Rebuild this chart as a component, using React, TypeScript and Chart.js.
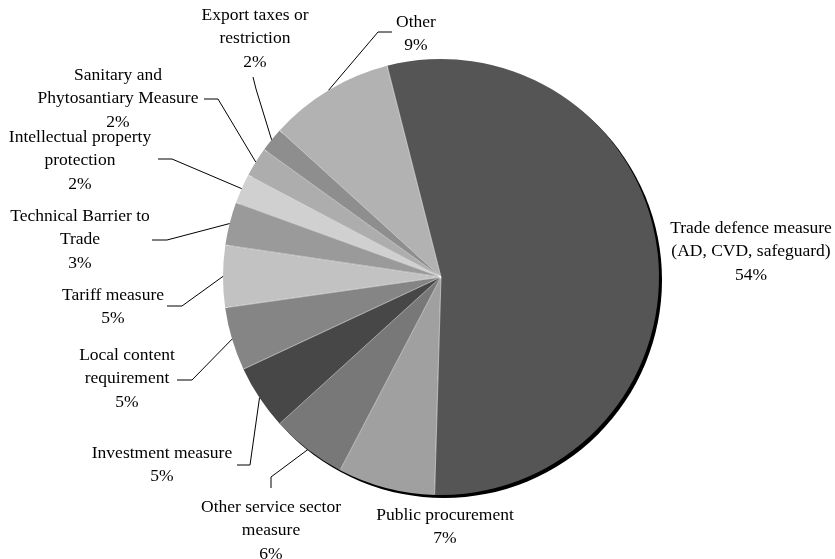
import { useEffect, useRef } from "react";
import { Chart, registerables } from "chart.js";

Chart.register(...registerables);

// ---- data ----
const categories: string[] = [
  "Trade defence measure\n(AD, CVD, safeguard)",
  "Public procurement",
  "Other service sector\nmeasure",
  "Investment measure",
  "Local content\nrequirement",
  "Tariff measure",
  "Technical Barrier to\nTrade",
  "Intellectual property\nprotection",
  "Sanitary and\nPhytosantiary Measure",
  "Export taxes or\nrestriction",
  "Other",
];

const shares: number[] = [54.49, 7.2, 5.6, 4.8, 4.7, 4.6, 3.2, 2.2, 2.2, 1.8, 9.3];

const sliceColors: string[] = [
  "#555555",
  "#a0a0a0",
  "#787878",
  "#474747",
  "#858585",
  "#c2c2c2",
  "#9a9a9a",
  "#d0d0d0",
  "#adadad",
  "#8e8e8e",
  "#b2b2b2",
];

// ---- label layout (offsets from pie centre, px) ----
type LabelLayout = { tx: number; ty: number; path: number[][] };
const labelLayout: LabelLayout[] = [
  { tx: 310, ty: -49, path: [] },
  { tx: 4, ty: 238, path: [] },
  { tx: -170, ty: 230, path: [[-170, 211], [-170, 200]] },
  { tx: -279, ty: 176, path: [[-204, 188], [-191, 188]] },
  { tx: -314, ty: 78, path: [[-264, 103], [-249, 103]] },
  { tx: -328, ty: 18, path: [[-274, 29], [-259, 29]] },
  { tx: -361, ty: -61, path: [[-289, -37], [-274, -37]] },
  { tx: -361, ty: -140, path: [[-283, -118], [-269, -118]] },
  { tx: -323, ty: -202, path: [[-237, -178], [-223, -178]] },
  { tx: -186, ty: -262, path: [[-188, -200], [-185, -188]] },
  { tx: -25, ty: -255, path: [[-49, -245], [-63, -245]] },
];

const LINE_H = 23.7;
const FONT = "17.5px 'Liberation Serif', 'Times New Roman', serif";

const shadowPlugin = {
  id: "pieShadow",
  beforeDatasetsDraw(chart: any) {
    const meta = chart.getDatasetMeta(0);
    const arc = meta.data[0];
    if (!arc) return;
    const { x, y, outerRadius } = arc.getProps(["x", "y", "outerRadius"], true);
    const ctx = chart.ctx;
    ctx.save();
    ctx.fillStyle = "#000000";
    ctx.beginPath();
    ctx.arc(x + 3, y + 3, outerRadius, 0, Math.PI * 2);
    ctx.fill();
    ctx.restore();
  },
};

const separatorPlugin = {
  id: "pieSeparators",
  afterDatasetsDraw(chart: any) {
    const meta = chart.getDatasetMeta(0);
    const ctx = chart.ctx;
    ctx.save();
    ctx.strokeStyle = "rgba(255,255,255,0.55)";
    ctx.lineWidth = 1;
    meta.data.forEach((el: any) => {
      const { x, y, startAngle, outerRadius } = el.getProps(
        ["x", "y", "startAngle", "outerRadius"],
        true
      );
      ctx.beginPath();
      ctx.moveTo(x, y);
      ctx.lineTo(x + Math.cos(startAngle) * (outerRadius - 0.5), y + Math.sin(startAngle) * (outerRadius - 0.5));
      ctx.stroke();
    });
    ctx.restore();
  },
};

const labelPlugin = {
  id: "pieLabels",
  afterDatasetsDraw(chart: any) {
    const meta = chart.getDatasetMeta(0);
    const ctx = chart.ctx;
    const total = shares.reduce((a, b) => a + b, 0);
    ctx.save();
    ctx.font = FONT;
    ctx.fillStyle = "#000000";
    ctx.textAlign = "center";
    ctx.textBaseline = "middle";
    meta.data.forEach((el: any, i: number) => {
      const { x, y, startAngle, endAngle, outerRadius } = el.getProps(
        ["x", "y", "startAngle", "endAngle", "outerRadius"],
        true
      );
      const lay = labelLayout[i];
      const lines = categories[i].split("\n");
      lines.push(Math.round((shares[i] / total) * 100) + "%");
      lines.forEach((ln, k) => {
        ctx.fillText(ln, x + lay.tx, y + lay.ty + k * LINE_H);
      });
      if (lay.path.length) {
        const mid = (startAngle + endAngle) / 2;
        const ex = x + Math.cos(mid) * outerRadius;
        const ey = y + Math.sin(mid) * outerRadius;
        ctx.save();
        ctx.strokeStyle = "#000000";
        ctx.lineWidth = 1;
        ctx.beginPath();
        lay.path.forEach((p, k) => {
          if (k === 0) ctx.moveTo(x + p[0], y + p[1]);
          else ctx.lineTo(x + p[0], y + p[1]);
        });
        ctx.lineTo(ex, ey);
        ctx.stroke();
        ctx.restore();
      }
    });
    ctx.restore();
  },
};

export default function App() {
  const ref = useRef<HTMLCanvasElement | null>(null);
  useEffect(() => {
    if (!ref.current) return;
    const chart = new Chart(ref.current, {
      type: "pie",
      data: {
        labels: categories.map((c) => c.replace("\n", " ")),
        datasets: [
          {
            data: shares,
            backgroundColor: sliceColors,
            borderWidth: 0,
          },
        ],
      },
      options: {
        responsive: false,
        animation: false,
        rotation: -14.3,
        layout: { padding: { left: 223, right: 176, top: 59, bottom: 64 } },
        plugins: {
          legend: { display: false },
          tooltip: { enabled: false },
        },
      },
      plugins: [shadowPlugin, separatorPlugin, labelPlugin],
    });
    return () => chart.destroy();
  }, []);
  return (
    <div style={{ position: "fixed", left: 0, top: 0, width: 835, height: 559, background: "#ffffff" }}>
      <canvas ref={ref} width={835} height={559} style={{ width: 835, height: 559 }} />
    </div>
  );
}
